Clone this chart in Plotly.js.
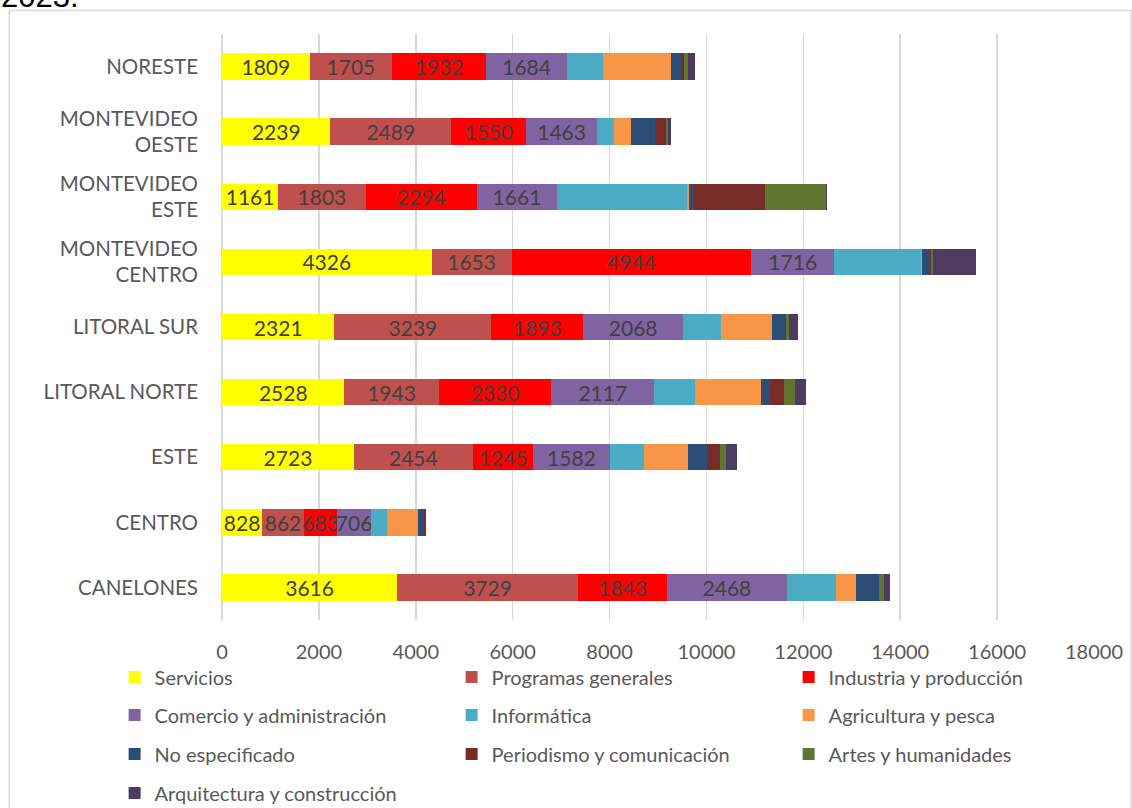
<!DOCTYPE html>
<html>
<head>
<meta charset="utf-8">
<script src="https://cdn.plot.ly/plotly-3.0.1.min.js"></script>
<style>html,body{margin:0;padding:0;background:#fff;overflow:hidden;}#chart{width:1132px;height:840px;}</style>
</head>
<body>
<div id="chart"></div>
<script>
// Categories top to bottom as drawn
const regions = ["NORESTE", "MONTEVIDEO<br>OESTE", "MONTEVIDEO<br>ESTE", "MONTEVIDEO<br>CENTRO", "LITORAL SUR", "LITORAL NORTE", "ESTE", "CENTRO", "CANELONES"];

const servicios      = [1809, 2239, 1161, 4326, 2321, 2528, 2723, 828, 3616];
const programasGen   = [1705, 2489, 1803, 1653, 3239, 1943, 2454, 862, 3729];
const industria      = [1932, 1550, 2294, 4944, 1893, 2330, 1245, 683, 1843];
const comercio       = [1684, 1463, 1661, 1716, 2068, 2117, 1582, 706, 2468];
const informatica    = [730, 352, 2686, 1798, 771, 845, 707, 330, 1014];
const agricultura    = [1408, 350, 28, 10, 1065, 1361, 908, 643, 412];
const noEspecificado = [213, 495, 115, 165, 268, 192, 385, 123, 475];
const periodismo     = [61, 227, 1464, 20, 21, 276, 281, 10, 10];
const artes          = [83, 35, 1258, 41, 61, 239, 123, 15, 89];
const arquitectura   = [131, 74, 20, 894, 173, 227, 227, 10, 123];

const seriesNames = ["Servicios", "Programas generales", "Industria y producción", "Comercio y administración", "Informática", "Agricultura y pesca", "No especificado", "Periodismo y comunicación", "Artes y humanidades", "Arquitectura y construcción"];
const seriesValues = [servicios, programasGen, industria, comercio, informatica, agricultura, noEspecificado, periodismo, artes, arquitectura];
const seriesColors = ["#FFFF00", "#C0504D", "#FF0000", "#8064A2", "#4BACC6", "#F79646", "#2C4D75", "#772C2A", "#5F7530", "#4D3B62"];
const labelled = [true, true, true, true, false, false, false, false, false, false];
const legendRow = ["legend", "legend", "legend", "legend2", "legend2", "legend2", "legend3", "legend3", "legend3", "legend4"];

const FONT = "Lato, 'Open Sans', sans-serif";

const traces = seriesNames.map((name, i) => ({
  type: "bar",
  orientation: "h",
  name: name,
  y: regions,
  x: seriesValues[i],
  marker: {color: seriesColors[i], line: {width: 0}},
  text: labelled[i] ? seriesValues[i].map(String) : undefined,
  textposition: labelled[i] ? "inside" : "none",
  insidetextanchor: "middle",
  constraintext: "none",
  cliponaxis: false,
  textfont: {family: FONT, size: 21, color: "#404040"},
  hoverinfo: "x+name",
  legend: legendRow[i]
}));

// plot-area geometry in px (figure is taller than the window; bottom is cropped like the reference)
const W = 1132, H = 840;
const L = 221.5, R = 37.5, T = 34, B = H - 620;
const pw = W - L - R, ph = H - T - B;
const px2x = p => (p - L) / pw;
const py2y = p => (H - B - p) / ph;

function legendAt(rowY) {
  return {
    orientation: "h",
    x: px2x(114), xanchor: "left",
    y: py2y(rowY), yanchor: "middle",
    entrywidth: 292, entrywidthmode: "pixels",
    font: {family: FONT, size: 20, color: "#595959"},
    bgcolor: "rgba(0,0,0,0)",
    traceorder: "normal"
  };
}

const layout = {
  width: W, height: H,
  margin: {l: L, r: R, t: T, b: B},
  paper_bgcolor: "#ffffff",
  plot_bgcolor: "#ffffff",
  barmode: "stack",
  bargap: 0.595,
  uniformtext: {minsize: 21, mode: "show"},
  font: {family: FONT, size: 20, color: "#595959"},
  xaxis: {
    range: [0, 18000],
    dtick: 2000,
    tick0: 0,
    tickformat: "d",
    showgrid: true,
    gridcolor: "#d9d9d9",
    gridwidth: 1.5,
    zeroline: true,
    zerolinecolor: "#d9d9d9",
    zerolinewidth: 1.5,
    showline: false,
    ticks: "",
    ticklabelstandoff: 18,
    tickfont: {family: FONT, size: 20, color: "#595959"},
    fixedrange: true
  },
  yaxis: {
    type: "category",
    autorange: "reversed",
    showgrid: false,
    showline: false,
    ticks: "",
    ticklabelstandoff: 23,
    tickfont: {family: FONT, size: 20.5, color: "#595959"},
    fixedrange: true
  },
  showlegend: true,
  legend: legendAt(677),
  legend2: legendAt(715),
  legend3: legendAt(754),
  legend4: legendAt(793),
  shapes: [{
    type: "rect", xref: "paper", yref: "paper",
    x0: px2x(8.5), x1: px2x(1131.5), y0: py2y(10.5), y1: py2y(835),
    line: {color: "#d9d9d9", width: 1.5}, fillcolor: "rgba(0,0,0,0)", layer: "below"
  }],
  annotations: [{
    text: "2023.", xref: "paper", yref: "paper",
    x: px2x(-2), xanchor: "left",
    y: py2y(16), yanchor: "bottom",
    showarrow: false,
    font: {family: "'Liberation Sans', Arial, sans-serif", size: 31, color: "#000000"}
  }]
};

Plotly.newPlot("chart", traces, layout, {displayModeBar: false, staticPlot: true});
</script>
</body>
</html>
